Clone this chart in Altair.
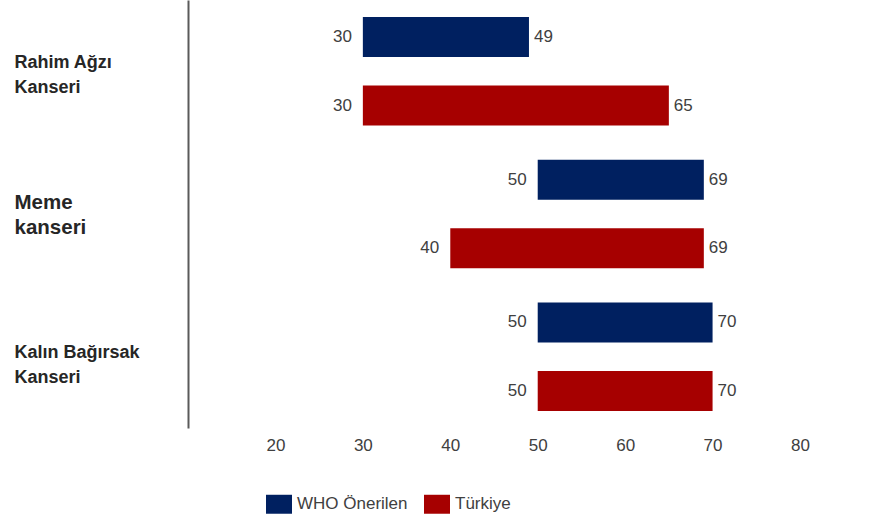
import altair as alt
import pandas as pd

categories = ["Rahim Ağzı Kanseri", "Meme kanseri", "Kalın Bağırsak Kanseri"]
series = ["WHO Önerilen", "Türkiye"]
who_start = [30, 50, 50]
who_end = [49, 69, 70]
tr_start = [30, 40, 50]
tr_end = [65, 69, 70]
x_ticks = [20, 30, 40, 50, 60, 70, 80]
colors = ["#002060", "#A60000"]

rows = []
for i, c in enumerate(categories):
    rows.append({"category": c, "series": series[0], "start": who_start[i], "end": who_end[i]})
    rows.append({"category": c, "series": series[1], "start": tr_start[i], "end": tr_end[i]})
df = pd.DataFrame(rows)

FONT = "Liberation Sans"
TXT = "#404040"

y_enc = alt.Y(
    "category:N",
    sort=categories,
    title=None,
    scale=alt.Scale(paddingInner=0, paddingOuter=0),
    axis=alt.Axis(
        ticks=False,
        grid=False,
        domain=True,
        domainColor="#5a5a5a",
        domainWidth=2,
        labelAlign="left",
        labelBaseline="middle",
        labelPadding=174,
        labelFont=FONT,
        labelFontWeight="bold",
        labelColor="#262626",
        labelFontSize={"condition": {"test": "datum.value == 'Meme kanseri'", "value": 20.5}, "value": 18},
        labelLineHeight=25,
        labelOffset={
            "condition": [
                {"test": "datum.value == 'Meme kanseri'", "value": -11},
                {"test": "datum.value == 'Kalın Bağırsak Kanseri'", "value": -4},
            ],
            "value": -8,
        },
        labelLimit=300,
        labelExpr="[slice(datum.label, 0, lastindexof(datum.label, ' ')), slice(datum.label, lastindexof(datum.label, ' ') + 1)]",
    ),
)
yoff_enc = alt.YOffset(
    "series:N", sort=series, scale=alt.Scale(paddingInner=0.416, paddingOuter=0.25)
)
x_scale = alt.Scale(domain=[10, 80], nice=False, zero=False)

base = alt.Chart(df).encode(y=y_enc, yOffset=yoff_enc)

bars = base.mark_bar().encode(
    x=alt.X(
        "start:Q",
        scale=x_scale,
        title=None,
        axis=alt.Axis(
            values=x_ticks,
            domain=False,
            ticks=False,
            grid=False,
            labelFlush=False,
            labelFont=FONT,
            labelFontSize=17,
            labelColor=TXT,
            labelPadding=9,
        ),
    ),
    x2="end:Q",
    color=alt.Color(
        "series:N",
        sort=series,
        scale=alt.Scale(domain=series, range=colors),
        legend=alt.Legend(
            title=None,
            orient="none",
            legendX=78,
            legendY=491,
            direction="horizontal",
            symbolType="M-1,-0.73H1V0.73H-1Z",
            symbolSize=676,
            symbolStrokeWidth=0,
            symbolOpacity=1,
            labelFont=FONT,
            labelFontSize=17,
            labelColor=TXT,
            labelOffset=5,
            columnPadding=16,
            padding=0,
        ),
    ),
)

start_txt = base.mark_text(align="right", baseline="middle", dx=-11, font=FONT, fontSize=17, color=TXT).encode(
    x=alt.X("start:Q", title=None), text="start:Q"
)
end_txt = base.mark_text(align="left", baseline="middle", dx=5, font=FONT, fontSize=17, color=TXT).encode(
    x=alt.X("end:Q", title=None), text="end:Q"
)

chart = (
    alt.layer(bars, start_txt, end_txt)
    .properties(
        width=612,
        height=428,
        autosize=alt.AutoSizeParams(type="none"),
        padding={"left": 188, "top": 0, "right": 77, "bottom": 90},
        background="white",
    )
    .configure_view(stroke=None)
)

chart.save("out.html", embed_options={"renderer": "svg", "actions": False})
